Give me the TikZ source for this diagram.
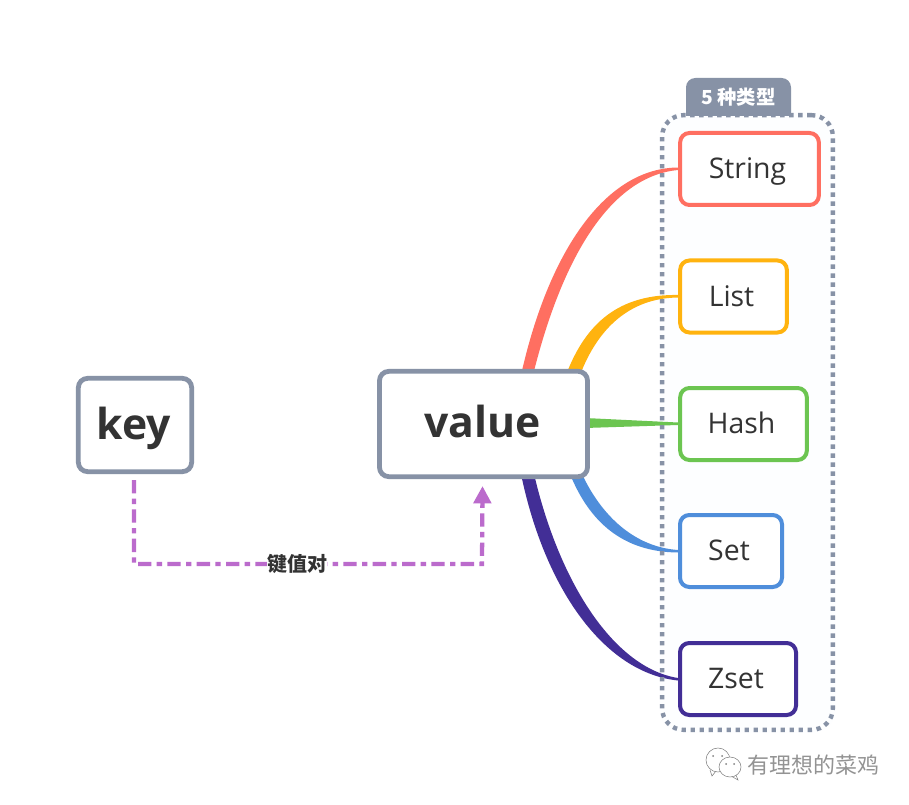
\documentclass[tikz,border=0pt]{standalone}
\usepackage{xcolor}
\usepackage{fontspec}
\usetikzlibrary{calc,arrows.meta,backgrounds}
\setmainfont{Open Sans}
\newfontfamily\cjk{Noto Sans CJK SC}
\definecolor{slate}{HTML}{8792A6}
\definecolor{ink}{HTML}{333333}
\definecolor{paleblue}{HTML}{FDFEFF}
\definecolor{redleaf}{HTML}{FF6F61}
\definecolor{yellowleaf}{HTML}{FFB30F}
\definecolor{greenleaf}{HTML}{6CC551}
\definecolor{blueleaf}{HTML}{4F8EDB}
\definecolor{purpleleaf}{HTML}{422E96}
\definecolor{linkpurple}{HTML}{BB6BCC}
\tikzset{
	mainbox/.style={draw=slate,fill=white,line width=3.6pt,rounded corners=7pt,text=ink,text depth=0pt,font=\fontsize{32}{36}\selectfont\bfseries,execute at end node={\kern2pt}},
	leaf/.style={draw=#1,fill=white,line width=3pt,rounded corners=7pt,text=ink,minimum height=54pt,text height=14.5pt,text depth=0pt,font=\fontsize{21.3}{26}\selectfont,execute at end node={\kern3pt}},
	branch/.style={fill=#1,draw=none},
	groupframe/.style={draw=slate,line width=3.3pt,dash pattern=on 3.3pt off 3.45pt,rounded corners=16pt,minimum width=128pt,minimum height=461pt},
	link/.style={draw=linkpurple,line width=3.2pt,dash pattern=on 10pt off 4pt on 4pt off 4pt,-{Triangle[length=13pt,width=13pt]}},
	bubble/.style={draw=gray,line width=0.4pt,fill=white},
	eye/.style={fill=gray}
}
\begin{document}
\begin{tikzpicture}[x=0.75pt,y=-0.75pt]
		\useasboundingbox (0,0) rectangle (909,805);
		\node[groupframe] (frame) at (747.5,422.5) {};
		\node[mainbox,minimum width=85pt,minimum height=70pt,text height=21pt] (key) at (135,425) {key};
		\node[mainbox,minimum width=156pt,minimum height=79pt,text height=19.5pt] (value) at (483.5,424) {value};
		\node[leaf=redleaf,minimum width=104pt] (string) at (749.5,169) {String};
		\node[leaf=yellowleaf,minimum width=80pt] (list) at (733.5,296.5) {List};
		\node[leaf=greenleaf,minimum width=95pt] (hash) at (743.5,424) {Hash};
		\node[leaf=blueleaf,minimum width=76.5pt] (set) at (731,551) {Set};
		\node[leaf=purpleleaf,minimum width=87pt] (zset) at (738,679) {Zset};
		% tab over the frame
		\fill[slate,rounded corners=7pt] (686,116) -- (686,78) -- (791,78) -- (791,116);
		\node[text=white,font=\cjk\fontsize{14.5}{16}\selectfont\bfseries] (tab) at (738.5,97) {5 种类型};
		\begin{pgfonlayer}{background}
			\fill[white] (0,0) rectangle (909,805);
			\fill[paleblue,rounded corners=16pt] (frame.north west) rectangle (frame.south east);
			\fill[branch=redleaf] (521,375) .. controls (549,250) and (606,168) .. ($(string.west)+(0,-1.5)$) -- ($(string.west)+(0,1)$) .. controls (612,176) and (563,254) .. (533,375) -- cycle;
			\fill[branch=yellowleaf] (566,375) .. controls (586,322) and (620,294) .. ($(list.west)+(0,-1.5)$) -- ($(list.west)+(0,1)$) .. controls (630,298) and (598,328) .. (580,375) -- cycle;
			\fill[branch=greenleaf] (585,418) -- ($(hash.west)+(0,-1.5)$) -- ($(hash.west)+(0,1)$) -- (585,428) -- cycle;
			\fill[branch=blueleaf] (570,474) .. controls (589,521) and (622,552) .. ($(set.west)+(0,1.5)$) -- ($(set.west)+(0,-1)$) .. controls (634,547) and (601,515) .. (582,474) -- cycle;
			\fill[branch=purpleleaf] (521,474) .. controls (545,590) and (605,673) .. ($(zset.west)+(0,1.5)$) -- ($(zset.west)+(0,-1)$) .. controls (615,668) and (560,585) .. (534,474) -- cycle;
		\end{pgfonlayer}
		% link from key to value
		\coordinate (K) at ($(key.south)+(-1,6)$);
		\coordinate (V) at ($(value.south)+(-1,7)$);
		\draw[link] (K) |- (482,564) -- (V);
		\node[fill=white,inner sep=0pt,text=ink,font=\cjk\fontsize{15}{16}\selectfont\bfseries] (pair) at (297,564) {键值对};
		% watermark
		\draw[bubble] (710,770) -- (712,776) -- (716,771);
		\draw[bubble] (718,760) ellipse (12 and 12);
		\fill[eye] (713,756) circle (1);
		\fill[eye] (722,756) circle (1);
		\draw[bubble] (736,775) -- (738,780) -- (731,776);
		\draw[bubble] (730,767) ellipse (11 and 10);
		\fill[eye] (726,764) circle (1);
		\fill[eye] (734,764) circle (1);
		\node[text=gray!85,font=\cjk\fontsize{16.5}{20}\selectfont] (mark) at (813,765) {有理想的菜鸡};
	\end{tikzpicture}
\end{document}
